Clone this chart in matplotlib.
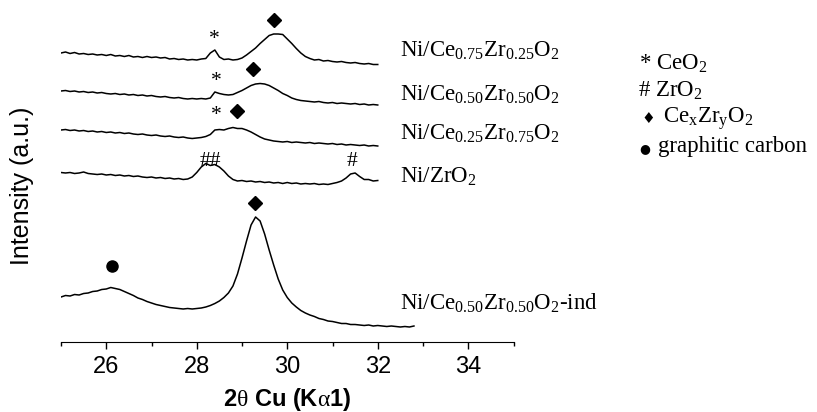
import numpy as np
import matplotlib
matplotlib.use('Agg')
import matplotlib.pyplot as plt

# 2theta grids (scan steps of 0.1 deg)
two_theta = np.linspace(25.0, 32.0, 71)
two_theta_ind = np.linspace(25.0, 32.8, 79)

# intensities (arbitrary units, already offset for stacking)
ce75 = [289, 290, 288.5, 289.5, 288, 288.5, 287.5, 288, 287, 287.5,
        286.5, 287.5, 286, 286.5, 285.5, 286.5, 285, 285.5, 284.5, 285.5,
        284.5, 285, 284, 284.5, 283, 283.5, 282.5, 283, 282, 282.5,
        282, 283, 283.5, 289, 292, 285, 282.5, 283, 282, 282.5,
        284, 287, 290.5, 294, 298.5, 302.5, 306.5, 308, 308, 307.5,
        303, 298.5, 293.5, 289, 285.5, 283.5, 282, 282.5, 281, 281.5,
        280.5, 280, 280.5, 279.5, 279, 279.5, 278.5, 278, 278.5, 277.5,
        277.5]
ce50 = [251, 251.5, 250.5, 251, 250, 250.5, 249.5, 250, 249, 249.5,
        248.5, 248, 248.5, 247.5, 248, 247, 247.5, 246.5, 247, 246,
        246.5, 245.5, 245, 245.5, 244.5, 244, 244.5, 243.5, 243, 243.5,
        243, 243.5, 243, 244, 250, 248.5, 247.5, 247, 247.5, 249.5,
        251.5, 254, 256.5, 258, 258.5, 258, 256.5, 254, 251.5, 248.5,
        246.5, 244, 242.5, 241.5, 241, 240.5, 240, 240.5, 239.5, 239,
        239.5, 238.5, 239, 238.5, 238, 238.5, 237.5, 238, 237, 237.5,
        237]
ce25 = [212, 212.5, 211.5, 212, 211, 211.5, 210.5, 211, 210, 210.5,
        209.5, 210, 209, 209.5, 208.5, 209, 208, 207.5, 208, 207,
        206.5, 207, 206, 205.5, 206, 205, 204.5, 205, 204, 203.5,
        204, 204.5, 205.5, 207.5, 212, 212.5, 212, 213.5, 214.5, 213.5,
        213.5, 212, 210, 207.5, 205, 203, 202, 201, 200.5, 200,
        200.5, 199.5, 200, 199.5, 199, 199.5, 198.5, 199, 198.5, 198,
        198.5, 197.5, 198, 197, 197.5, 197, 196.5, 197, 196, 196.5,
        196]
zro2 = [169.5, 169, 169.5, 168.5, 169, 170, 168.5, 168, 167.5, 168,
        167, 167.5, 166.5, 167, 166, 166.5, 165.5, 166, 165, 164.5,
        165, 164, 164.5, 163.5, 164, 163, 163.5, 162.5, 163, 165,
        169.5, 175, 178.5, 176.5, 177.5, 175, 171, 166, 162.5, 161,
        161.5, 160.5, 161, 160, 160.5, 159.5, 160, 159, 159.5, 158.5,
        159.5, 158.5, 159, 158, 158.5, 158, 158.5, 157.5, 158, 157.5,
        158.5, 159.5, 161, 164, 168, 169, 165.5, 162.5, 162.5, 161,
        161.5]
ce50_ind = [45, 46.5, 46, 47.5, 47, 48.5, 49, 50.5, 51, 52.5,
            53, 54.5, 53.5, 52.5, 50.5, 48.5, 46.5, 44, 42.5, 40.5,
            39, 37.5, 36.5, 35.5, 34.5, 34, 33.5, 33, 33.5, 33,
            33.5, 34, 35, 36.5, 38.5, 41, 44.5, 49, 56, 68,
            84, 101, 117, 125, 121, 108, 92, 77, 63, 52,
            44.5, 39, 35, 31.5, 29, 27, 25.5, 23.5, 22.5, 21,
            20.5, 19.5, 18.5, 18.5, 17.5, 17.5, 17, 16.5, 17, 16,
            16.5, 16, 15.5, 16, 15.5, 15, 15.5, 15, 16]

sample_labels = [r'Ni/Ce$_{0.75}$Zr$_{0.25}$O$_{2}$',
                 r'Ni/Ce$_{0.50}$Zr$_{0.50}$O$_{2}$',
                 r'Ni/Ce$_{0.25}$Zr$_{0.75}$O$_{2}$',
                 r'Ni/ZrO$_{2}$',
                 r'Ni/Ce$_{0.50}$Zr$_{0.50}$O$_{2}$-ind']
label_y = [285, 241, 202, 159, 32]

# peak markers: (2theta, height, symbol)
text_marks = [(28.38, 303, '*'), (28.43, 261, '*'), (28.43, 227, '*'),
              (28.3, 180, '##'), (31.42, 180, '#')]
diamond_marks = [(29.7, 322), (29.25, 273), (28.9, 231), (29.29, 139)]
circle_marks = [(26.12, 76)]

plt.rcParams['mathtext.fontset'] = 'custom'
plt.rcParams['mathtext.rm'] = 'Liberation Serif'
plt.rcParams['mathtext.it'] = 'Liberation Serif:italic'
plt.rcParams['font.family'] = ['Liberation Sans', 'DejaVu Sans']

fig = plt.figure(figsize=(8.17, 4.12), dpi=100)
ax = fig.add_axes([61 / 817, 70 / 412, 452.5 / 817, 342 / 412])

lw = 1.1
for y in (ce75, ce50, ce25, zro2):
    ax.plot(two_theta, y, color='black', lw=lw)
ax.plot(two_theta_ind, ce50_ind, color='black', lw=lw)

serif = ['Liberation Serif', 'DejaVu Sans']
for x, y, s in text_marks:
    ax.text(x, y, s, ha='center', va='center', fontsize=15.5, family=serif)
for x, y in diamond_marks:
    ax.plot(x, y, marker='D', ms=7, color='black')
for x, y in circle_marks:
    ax.plot(x, y, marker='o', ms=8, color='black')

for lab, y in zip(sample_labels, label_y):
    ax.text(32.49, y, lab, ha='left', va='baseline',
            fontsize=16.5, family=serif, clip_on=False)

ax.set_xlim(25, 35)
ax.set_ylim(0, 342)
for side in ('left', 'right', 'top'):
    ax.spines[side].set_visible(False)
ax.set_yticks([])
ax.set_xticks([26, 28, 30, 32, 34])
ax.set_xticks([25, 27, 29, 31, 33, 35], minor=True)
ax.tick_params(axis='x', which='major', length=5, width=1, direction='out',
               labelsize=17, pad=5)
ax.tick_params(axis='x', which='minor', length=3, width=1, direction='out')
ax.set_xlabel(r'2$\mathrm{\theta}$ Cu (K$\mathrm{\alpha}$1)', fontsize=17,
              fontweight='bold', labelpad=6)

fig.text(22 / 817, 1 - 186 / 412, 'Intensity (a.u.)', rotation=90,
         ha='center', va='center', fontsize=18)

# legend of the peak symbols
def fy(py):
    return 1 - py / 412

fig.text(639 / 817, fy(70), r'* CeO$_{2}$', fontsize=16.5, family=serif,
         va='baseline')
fig.text(638 / 817, fy(97), r'# ZrO$_{2}$', fontsize=16.5, family=serif,
         va='baseline')
fig.text(641 / 817, fy(123), '\u2666', fontsize=11, family=['DejaVu Sans'],
         va='baseline')
fig.text(663 / 817, fy(123), r'Ce$_{\mathrm{x}}$Zr$_{\mathrm{y}}$O$_{2}$',
         fontsize=16.5, family=serif, va='baseline')
fig.text(639 / 817, fy(152), '\u25cf', fontsize=9, family=['DejaVu Sans'],
         va='baseline')
fig.text(658 / 817, fy(152), 'graphitic carbon', fontsize=16.5,
         family=serif, va='baseline')

fig.savefig('out.png', dpi=100)
